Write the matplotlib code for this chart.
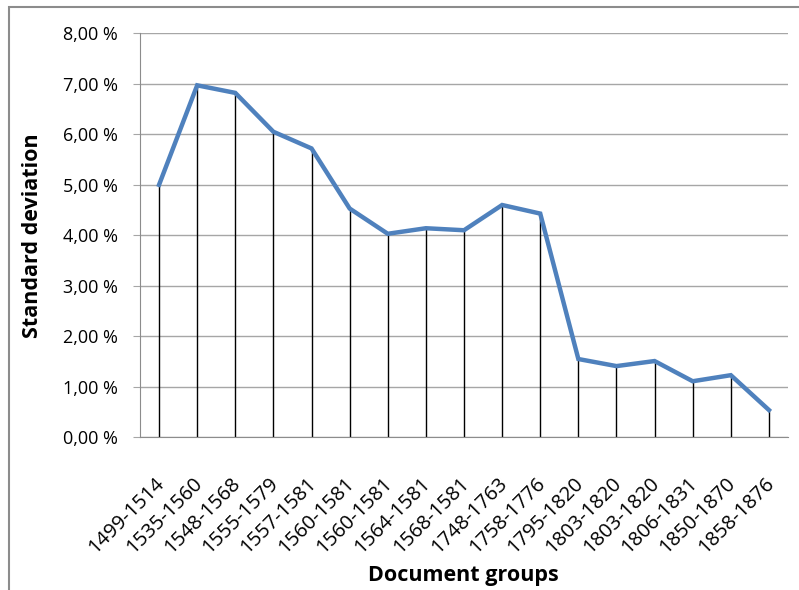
import matplotlib
matplotlib.use("Agg")
import matplotlib.pyplot as plt
from matplotlib.patches import Rectangle
from matplotlib.ticker import FuncFormatter
from matplotlib.transforms import ScaledTranslation

# Standard deviation per document group (in percent)
groups = ["1499-1514", "1535-1560", "1548-1568", "1555-1579", "1557-1581",
          "1560-1581", "1560-1581", "1564-1581", "1568-1581", "1748-1763",
          "1758-1776", "1795-1820", "1803-1820", "1803-1820", "1806-1831",
          "1850-1870", "1858-1876"]
std_dev = [5.00, 6.97, 6.82, 6.05, 5.72, 4.53, 4.03, 4.14, 4.10, 4.60,
           4.43, 1.55, 1.41, 1.51, 1.11, 1.23, 0.54]
y_ticks = [0, 1, 2, 3, 4, 5, 6, 7, 8]

plt.rcParams["font.family"] = ["Open Sans", "DejaVu Sans"]

W, H = 799, 590
fig = plt.figure(figsize=(W / 100, H / 100), dpi=100)
fig.patch.set_facecolor("white")

# chart-area frame (runs off the right and bottom edges)
fig.patches.append(Rectangle((9 / W, -0.1), 1.2, 1.1 - 7 / H, transform=fig.transFigure,
                             fill=False, edgecolor="#8c8c8c", linewidth=1.5))

ax = fig.add_axes([140 / W, 1 - 437.3 / H, (788 - 140) / W, (437.3 - 33.3) / H])
x = list(range(len(groups)))

# drop lines from each point to the axis
ax.vlines(x, 0, std_dev, colors="black", linewidth=1.0, zorder=2)
ax.plot(x, std_dev, color="#4F81BD", linewidth=3.2, solid_joinstyle="miter", zorder=3)

ax.set_xlim(-0.5, len(groups) - 0.5)
ax.set_ylim(0, 8)
ax.set_yticks(y_ticks)
ax.yaxis.set_major_formatter(FuncFormatter(lambda v, p: f"{v:.2f}".replace(".", ",") + " %"))
ax.grid(axis="y", color="#a6a6a6", linewidth=1.0, zorder=0)
ax.set_axisbelow(True)

ax.set_xticks(x)
ax.set_xticklabels(groups, rotation=45, ha="right", va="center",
                   rotation_mode="anchor", fontsize=14.5)
ax.tick_params(axis="x", length=0, pad=0)
shift = ScaledTranslation(2 / 100, -43 / 100, fig.dpi_scale_trans)
for lbl in ax.get_xticklabels():
    lbl.set_transform(lbl.get_transform() + shift)
ax.tick_params(axis="y", length=5, color="#a6a6a6", labelsize=13, pad=11)

for side in ("top", "right"):
    ax.spines[side].set_visible(False)
ax.spines["left"].set_color("#8c8c8c")
ax.spines["bottom"].set_color("#8c8c8c")

ax.set_ylabel("Standard deviation", fontsize=15.5, fontweight="bold", va="center")
ax.yaxis.set_label_coords((33 - 140) / 648, 0.5)
ax.set_xlabel("Document groups", fontsize=15.5, fontweight="bold", va="center")
ax.xaxis.set_label_coords((463 - 140) / 648, (437.3 - 576) / 404)

fig.savefig("out.png", dpi=100)
